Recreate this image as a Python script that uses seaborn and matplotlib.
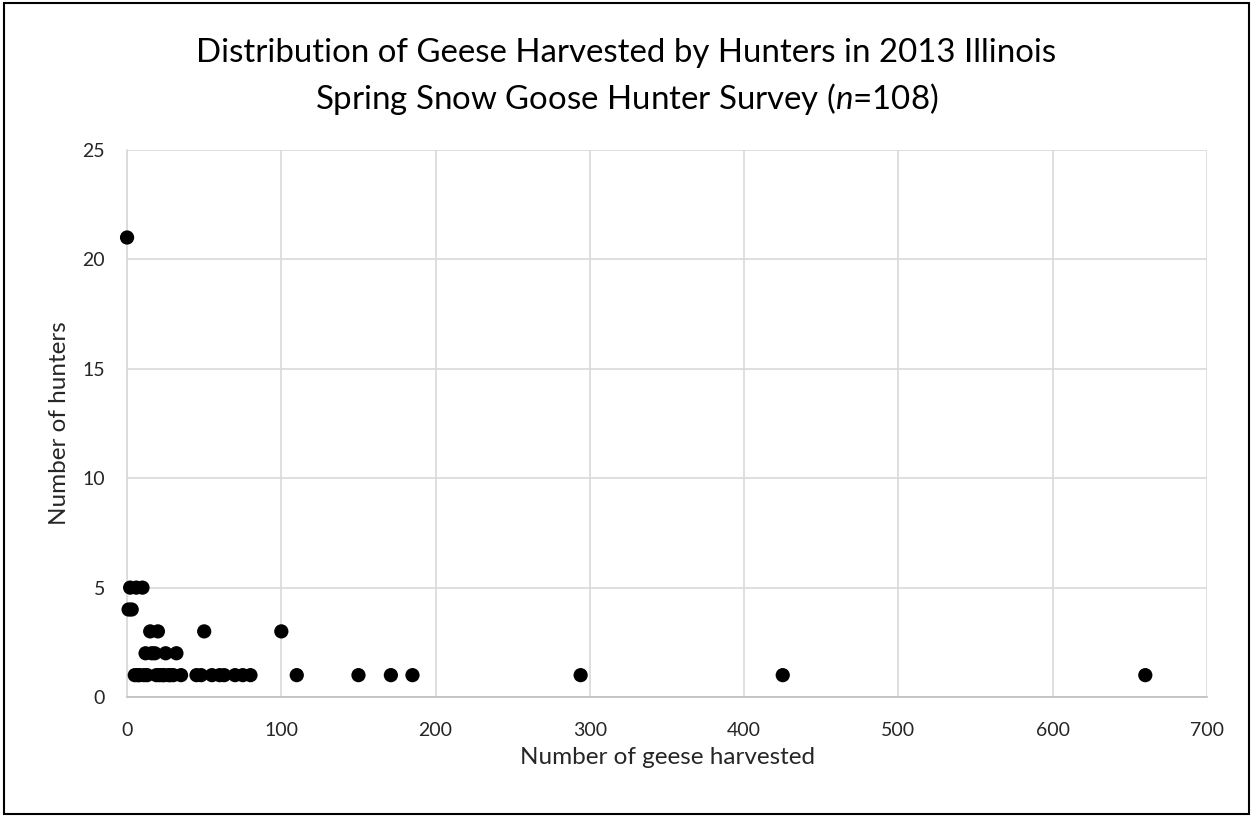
#!/usr/bin/env python3
"""Scatter of geese harvested per hunter, 2013 Illinois spring snow goose survey."""

import matplotlib as mpl
import matplotlib.pyplot as plt
from matplotlib.patches import Rectangle
import pandas as pd
import seaborn as sns

# number of geese harvested (x) and number of hunters reporting it (y)
geese_harvested = [
    0,
    2, 6, 10,
    1, 3,
    15, 20, 50, 100,
    12, 16, 18, 25, 32,
    5, 7, 8, 11, 13, 19, 21, 23, 24, 27, 28, 30, 35,
    45, 48, 55, 60, 63, 70, 75, 80,
    110, 150, 171, 185, 294, 425, 660,
]
hunters = [
    21,
    5, 5, 5,
    4, 4,
    3, 3, 3, 3,
    2, 2, 2, 2, 2,
    1, 1, 1, 1, 1, 1, 1, 1, 1, 1, 1, 1, 1,
    1, 1, 1, 1, 1, 1, 1, 1,
    1, 1, 1, 1, 1, 1, 1,
]
x_ticks = [0, 100, 200, 300, 400, 500, 600, 700]
y_ticks = [0, 5, 10, 15, 20, 25]

GRID = "#d9d9d9"
INK = "#262626"


def main() -> None:
    sns.set_style("white")
    mpl.rcParams.update(
        {
            "font.family": ["Lato", "DejaVu Sans"],
            "mathtext.fontset": "custom",
            "mathtext.it": "Lato:italic",
            "mathtext.rm": "Lato",
        }
    )

    data = pd.DataFrame({"Geese": geese_harvested, "Hunters": hunters})

    fig = plt.figure(figsize=(12.53, 8.16), dpi=100)
    ax = fig.add_axes([0.1014, 0.1458, 0.8619, 0.6704])

    sns.scatterplot(
        data=data,
        x="Geese",
        y="Hunters",
        color="black",
        s=105,
        edgecolor="none",
        ax=ax,
        clip_on=False,
        zorder=3,
    )

    ax.set_xlim(0, 700)
    ax.set_ylim(0, 25)
    ax.set_xticks(x_ticks)
    ax.set_yticks(y_ticks)
    ax.grid(True, color=GRID, linewidth=1.2)
    ax.set_axisbelow(True)
    for side in ["top", "right"]:
        ax.spines[side].set_visible(False)
    ax.spines["left"].set_color(GRID)
    ax.spines["left"].set_linewidth(1.2)
    ax.spines["bottom"].set_color("#bfbfbf")
    ax.spines["bottom"].set_linewidth(1.2)
    ax.tick_params(axis="both", length=0, labelsize=14, colors=INK)
    ax.tick_params(axis="x", pad=18)
    ax.tick_params(axis="y", pad=16)

    ax.set_xlabel("Number of geese harvested", fontsize=17.5, color=INK)
    ax.set_ylabel("Number of hunters", fontsize=17.5, color=INK)
    ax.xaxis.set_label_coords(0.5, -0.091)
    ax.yaxis.set_label_coords(-0.053, 0.5)

    fig.text(
        0.5,
        0.935,
        "Distribution of Geese Harvested by Hunters in 2013 Illinois",
        ha="center",
        va="center",
        fontsize=23.8,
        color="black",
    )
    fig.text(
        0.5,
        0.879,
        r"Spring Snow Goose Hunter Survey ($\it{n}$=108)",
        ha="center",
        va="center",
        fontsize=23.8,
        color="black",
    )

    fig.patches.append(
        Rectangle(
            (0.003, 0.002),
            0.994,
            0.994,
            transform=fig.transFigure,
            fill=False,
            edgecolor="black",
            linewidth=1.5,
        )
    )

    fig.savefig("out.png", dpi=100)
    plt.close(fig)


if __name__ == "__main__":
    main()
